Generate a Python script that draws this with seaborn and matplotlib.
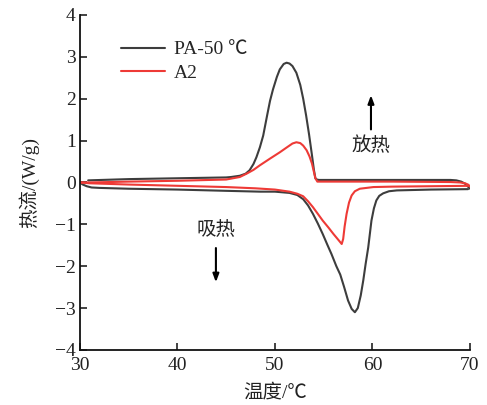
import matplotlib
matplotlib.use("Agg")
import matplotlib.pyplot as plt
import seaborn as sns
import pandas as pd

# DSC curves: temperature (°C) and heat flow (W/g) for each scan branch
pa_cool_T = [70.0, 69.8, 69.5, 69.1, 68.6, 68.0, 62.0, 56.0, 54.5, 54.3, 54.15, 54.0,
             53.8, 53.5, 53.2, 52.9, 52.6, 52.2, 51.8, 51.5, 51.2, 50.9, 50.5, 50.2,
             49.8, 49.5, 49.2, 49.0, 48.8, 48.46, 48.1, 47.8, 47.4, 47.0, 46.4, 45.5,
             45.0, 40.0, 35.0, 30.85]
pa_cool_q = [-0.15, -0.1, -0.03, 0.02, 0.05, 0.06, 0.06, 0.06, 0.06, 0.07, 0.1, 0.3,
             0.65, 1.15, 1.6, 2.0, 2.33, 2.62, 2.78, 2.84, 2.86, 2.83, 2.7, 2.52,
             2.22, 1.95, 1.6, 1.36, 1.12, 0.84, 0.6, 0.44, 0.29, 0.21, 0.16, 0.13,
             0.12, 0.1, 0.08, 0.05]

pa_heat_T = [30.0, 30.3, 30.7, 31.2, 32.0, 35.0, 40.0, 45.0, 48.5, 50.0, 51.5, 52.3,
             52.9, 53.4, 53.9, 54.4, 54.9, 55.4, 55.8, 56.3, 56.7, 57.1, 57.5, 57.87,
             58.2, 58.5, 58.8, 59.06, 59.3, 59.57, 59.9, 60.15, 60.4, 60.7, 61.1, 61.7,
             62.5, 66.0, 69.8]
pa_heat_q = [0.0, -0.05, -0.09, -0.12, -0.13, -0.15, -0.17, -0.2, -0.22, -0.22, -0.25, -0.3,
             -0.4, -0.55, -0.75, -0.98, -1.23, -1.5, -1.71, -2.0, -2.2, -2.5, -2.82, -3.02,
             -3.1, -3.0, -2.7, -2.34, -1.95, -1.55, -0.91, -0.62, -0.43, -0.32, -0.26, -0.21,
             -0.19, -0.17, -0.16]

a2_cool_T = [70.0, 69.8, 69.5, 69.0, 68.0, 62.0, 56.0, 54.6, 54.35, 54.15, 54.0, 53.8,
             53.55, 53.25, 52.9, 52.6, 52.2, 51.8, 51.3, 50.5, 49.5, 48.46, 47.8, 47.1,
             46.4, 45.0, 40.0, 35.0, 31.0, 30.0]
a2_cool_q = [-0.1, -0.05, -0.02, 0.0, 0.01, 0.02, 0.02, 0.02, 0.02, 0.1, 0.25, 0.45,
             0.62, 0.77, 0.88, 0.94, 0.96, 0.93, 0.85, 0.72, 0.57, 0.41, 0.3, 0.21,
             0.13, 0.07, 0.04, 0.02, 0.0, 0.0]

a2_heat_T = [30.0, 31.0, 35.0, 40.0, 45.0, 48.0, 50.0, 51.5, 52.3, 52.9, 53.4, 53.9,
             54.4, 54.9, 55.5, 56.0, 56.5, 56.85, 57.0, 57.15, 57.35, 57.6, 57.87, 58.2,
             58.7, 60.1, 62.0, 66.0, 70.0]
a2_heat_q = [0.0, -0.02, -0.05, -0.08, -0.11, -0.14, -0.17, -0.22, -0.27, -0.33, -0.45, -0.59,
             -0.75, -0.91, -1.08, -1.23, -1.37, -1.47, -1.35, -1.05, -0.75, -0.48, -0.31, -0.21,
             -0.15, -0.11, -0.1, -0.09, -0.08]

sample_names = ["PA-50 ℃", "A2"]
line_colors = ["#3d3d3d", "#ee3a36"]

frames = []
for name, branch, T, q in [
    (sample_names[0], "cool", pa_cool_T, pa_cool_q),
    (sample_names[0], "heat", pa_heat_T, pa_heat_q),
    (sample_names[1], "cool", a2_cool_T, a2_cool_q),
    (sample_names[1], "heat", a2_heat_T, a2_heat_q),
]:
    frames.append(pd.DataFrame({"T": T, "q": q, "sample": name, "branch": branch}))
df = pd.concat(frames, ignore_index=True)

sns.set_theme(style="ticks")
plt.rcParams["font.family"] = ["Liberation Serif", "Noto Sans CJK SC"]
plt.rcParams["axes.unicode_minus"] = True

fig = plt.figure(figsize=(4.87, 4.05), dpi=100)
ax = fig.add_axes([0.164, 0.136, 0.801, 0.827])

sns.lineplot(data=df, x="T", y="q", hue="sample", units="branch", estimator=None,
             sort=False, palette=dict(zip(sample_names, line_colors)),
             hue_order=sample_names, linewidth=1.5, ax=ax)

ax.set_xlim(30, 70)
ax.set_ylim(-4, 4)
ax.set_xticks([30, 40, 50, 60, 70])
ax.set_yticks(range(-4, 5))
ax.tick_params(direction="in", length=5, width=1.2, labelsize=14, colors="#222222")
ax.tick_params(axis="x", pad=5)
ax.tick_params(axis="y", pad=3)
for side in ["top", "right"]:
    ax.spines[side].set_visible(False)
for side in ["left", "bottom"]:
    ax.spines[side].set_linewidth(1.3)
    ax.spines[side].set_color("#111111")

ax.set_xlabel("温度/℃", fontsize=14, labelpad=7, color="#222222")
ax.set_ylabel("热流/(W/g)", fontsize=14, labelpad=11, color="#222222")

leg = ax.legend(loc="upper left", bbox_to_anchor=(0.06, 0.975), frameon=False,
                fontsize=14, handlelength=2.3, handletextpad=0.45, labelspacing=0.3)
for line in leg.get_lines():
    line.set_linewidth(1.5)

ax.annotate("", xy=(59.85, 2.15), xytext=(59.85, 1.2),
            arrowprops=dict(arrowstyle="-|>,head_width=0.15,head_length=0.4",
                            color="black", lw=1.5))
ax.text(59.85, 0.88, "放热", ha="center", va="center", fontsize=14, color="#222222")
ax.text(43.95, -1.15, "吸热", ha="center", va="center", fontsize=14, color="#222222")
ax.annotate("", xy=(43.95, -2.45), xytext=(43.95, -1.5),
            arrowprops=dict(arrowstyle="-|>,head_width=0.15,head_length=0.4",
                            color="black", lw=1.5))

fig.savefig("out.png", dpi=100)
